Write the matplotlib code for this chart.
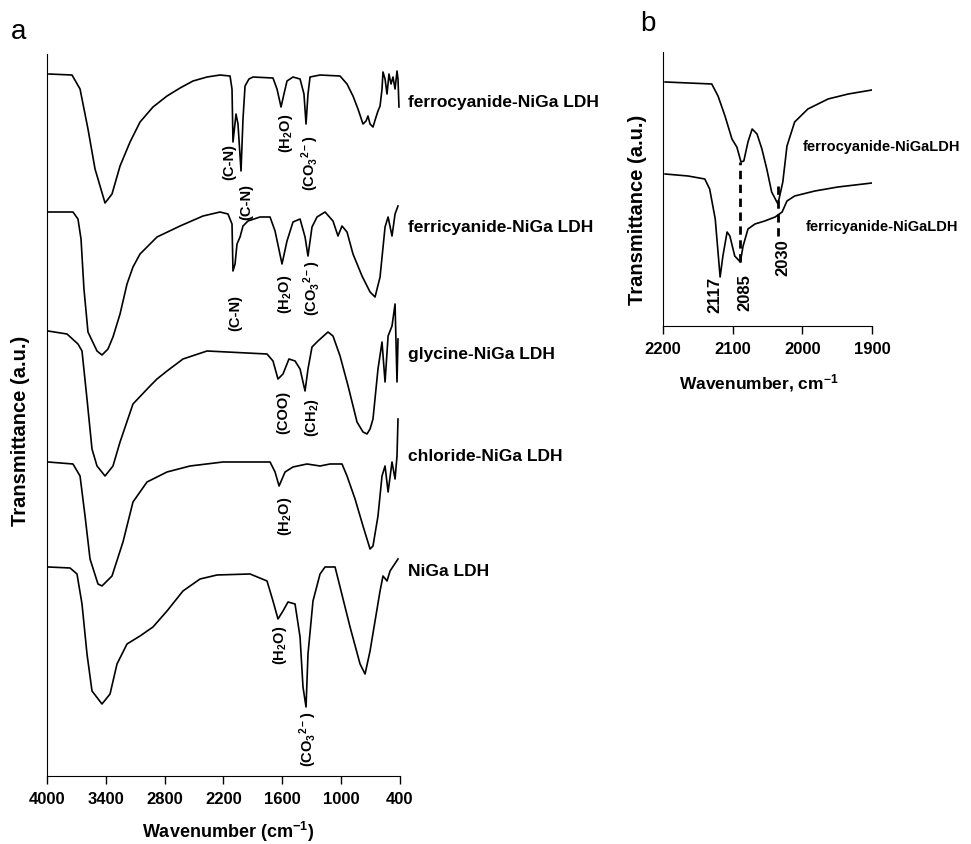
import matplotlib
matplotlib.use("Agg")
import matplotlib.pyplot as plt

plt.rcParams['font.family'] = ['Liberation Sans', 'DejaVu Sans']
plt.rcParams['mathtext.default'] = 'regular'

# ---- panel a: FTIR spectra, stacked (a.u.) ----
wn_ferro = [3980, 3745, 3663, 3582, 3510, 3408, 3337, 3255, 3153, 3051, 2919, 2776, 2643, 2511, 2368,
            2235, 2133, 2113, 2103, 2072, 2052, 2021, 2001, 1980, 1940, 1899, 1695, 1654, 1613, 1583,
            1552, 1491, 1419, 1379, 1358, 1338, 1317, 1215, 1011, 940, 879, 828, 777, 746, 726,
            705, 675, 644, 624, 603, 583, 573, 552, 532, 512, 491, 471, 450, 430, 420, 410]
t_ferro = [702, 701, 687, 647, 607, 573, 582, 610, 634, 654, 669, 680, 688, 695, 699,
           701, 700, 687, 634, 662, 652, 605, 657, 690, 697, 699, 698, 687, 669, 682,
           695, 699, 697, 682, 652, 682, 699, 701, 700, 692, 680, 667, 652, 655, 660,
           652, 649, 659, 665, 670, 687, 704, 697, 682, 702, 692, 699, 687, 705, 697, 669]

wn_ferri = [3990, 3735, 3684, 3653, 3623, 3582, 3490, 3439, 3378, 3327, 3255, 3184, 3123, 3051, 2878,
            2643, 2409, 2235, 2154, 2113, 2103, 2082, 2062, 2031, 2001, 1950, 1827, 1725, 1674, 1603,
            1552, 1491, 1419, 1368, 1338, 1297, 1246, 1164, 1083, 1032, 991, 940, 879, 787, 705,
            654, 603, 552, 521, 481, 450, 420]
t_ferri = [564, 564, 557, 537, 487, 444, 425, 421, 427, 439, 462, 492, 509, 522, 539,
           550, 560, 564, 562, 552, 505, 512, 532, 539, 550, 555, 559, 559, 545, 512,
           535, 554, 557, 539, 520, 549, 559, 564, 555, 540, 550, 544, 522, 500, 484,
           479, 499, 549, 559, 540, 562, 570]

wn_gly = [3990, 3796, 3684, 3643, 3592, 3541, 3490, 3408, 3327, 3255, 3123, 2949, 2878, 2776, 2613,
          2368, 2164, 1960, 1756, 1695, 1644, 1593, 1532, 1470, 1419, 1368, 1338, 1297, 1236, 1134,
          1083, 1011, 929, 838, 777, 736, 705, 675, 624, 583, 552, 521, 481, 450, 430, 420]
t_gly = [445, 442, 432, 425, 377, 327, 310, 300, 310, 334, 372, 390, 397, 405, 417,
         425, 424, 423, 422, 415, 397, 402, 417, 415, 407, 385, 407, 429, 435, 444,
         440, 420, 390, 354, 344, 342, 347, 357, 407, 434, 394, 440, 450, 472, 394, 437]

wn_cl = [3990, 3735, 3663, 3612, 3561, 3480, 3439, 3337, 3225, 3123, 2980, 2776, 2541, 2205, 1725,
         1674, 1633, 1572, 1491, 1348, 1215, 1113, 991, 940, 858, 777, 705, 675, 624, 583,
         552, 521, 481, 450, 430, 420]
t_cl = [314, 312, 300, 260, 217, 192, 190, 200, 234, 274, 294, 304, 310, 314, 314,
        304, 290, 304, 309, 312, 310, 312, 312, 300, 277, 250, 227, 230, 260, 300,
        310, 284, 314, 297, 320, 357]

wn_niga = [3990, 3765, 3694, 3643, 3592, 3541, 3439, 3357, 3286, 3184, 3051, 2919, 2776, 2613, 2439,
           2266, 1929, 1756, 1695, 1644, 1593, 1542, 1470, 1419, 1389, 1358, 1338, 1287, 1215, 1164,
           1062, 1011, 909, 807, 756, 705, 654, 603, 573, 532, 501, 420]
t_niga = [209, 208, 202, 172, 122, 85, 72, 82, 112, 132, 140, 149, 165, 185, 197,
          201, 202, 195, 175, 157, 165, 174, 172, 139, 89, 69, 122, 175, 202, 209,
          209, 189, 149, 112, 102, 125, 155, 185, 200, 195, 205, 217]

series_a = [
    (wn_ferro, t_ferro, "ferrocyanide-NiGa LDH", 675),
    (wn_ferri, t_ferri, "ferricyanide-NiGa LDH", 550),
    (wn_gly, t_gly, "glycine-NiGa LDH", 422),
    (wn_cl, t_cl, "chloride-NiGa LDH", 320),
    (wn_niga, t_niga, "NiGa LDH", 205),
]

# band assignments: (wavenumber, a.u. height, text)
bands_a = [
    (2143, 615, "(C-N)"), (1970, 575, "(C-N)"), (1562, 644, "(H$_2$O)"), (1317, 614, "(CO$_3$$^{2-}$)"),
    (2082, 464, "(C-N)"), (1572, 483, "(H$_2$O)"), (1297, 489, "(CO$_3$$^{2-}$)"),
    (1593, 365, "(COO)"), (1297, 359, "(CH$_2$)"),
    (1572, 261, "(H$_2$O)"),
    (1623, 132, "(H$_2$O)"), (1338, 38, "(CO$_3$$^{2-}$)"),
]
ticks_a = [4000, 3400, 2800, 2200, 1600, 1000, 400]

# ---- panel b: C-N stretching region ----
wn_b_ferro = [2197, 2130, 2121, 2111, 2101, 2094, 2088, 2084, 2078, 2072, 2065, 2058, 2051, 2044, 2035,
              2028, 2022, 2011, 1992, 1963, 1934, 1900]
t_b_ferro = [244, 242, 230, 210, 187, 179, 164, 165, 184, 197, 192, 177, 157, 134, 122,
             144, 180, 204, 217, 227, 232, 236]
wn_b_ferri = [2197, 2164, 2140, 2133, 2125, 2118, 2114, 2108, 2104, 2097, 2089, 2085, 2078, 2068, 2054,
              2039, 2029, 2022, 2011, 1982, 1949, 1900]
t_b_ferri = [152, 150, 147, 137, 107, 49, 70, 94, 90, 70, 64, 80, 97, 102, 105,
             109, 114, 125, 130, 135, 139, 143]
peak_lines_b = [(2089, 64, 164), (2035, 90, 142)]
peak_labels_b = [(2125, 32, "2117"), (2082, 34, "2085"), (2028, 69, "2030")]
ticks_b = [2200, 2100, 2000, 1900]

fig = plt.figure(figsize=(9.71, 8.45), dpi=100)
ax = fig.add_axes([0.0484, 0.0805, 0.3635, 0.8544])
for wn, t, name, ylab in series_a:
    ax.plot(wn, t, color='black', lw=1.2)
    ax.text(4000 - (408 - 47) * 10.2, ylab, name, fontsize=12.5, fontweight='bold',
            va='center', ha='left', clip_on=False)
for wn, t, txt in bands_a:
    ax.text(wn, t, txt, rotation=90, fontsize=10.5, fontweight='bold', ha='center', va='center')
ax.set_xlim(4000, 400)
ax.set_ylim(0, 722)
ax.set_xticks(ticks_a)
ax.set_yticks([])
ax.tick_params(axis='x', direction='out', length=6, width=1, labelsize=12, pad=5)
for lbl in ax.get_xticklabels():
    lbl.set_fontweight('bold')
for s in ['top', 'right']:
    ax.spines[s].set_visible(False)
fig.text(0.235, 0.016, "Wavenumber (cm$^{-1}$)", fontsize=13, fontweight='bold', ha='center', va='center')
fig.text(0.021, 0.49, "Transmittance (a.u.)", fontsize=14.5, fontweight='bold', rotation=90,
         ha='center', va='center')
fig.text(0.011, 0.962, "a", fontsize=20, ha='left', va='center')

bx = fig.add_axes([0.6828, 0.613, 0.2152, 0.3243])
bx.plot(wn_b_ferro, t_b_ferro, color='black', lw=1.2)
bx.plot(wn_b_ferri, t_b_ferri, color='black', lw=1.2)
for wn, y0, y1 in peak_lines_b:
    bx.plot([wn, wn], [y0, y1], color='black', lw=2, ls=(0, (3, 2)))
for wn, t, txt in peak_labels_b:
    bx.text(wn, t, txt, rotation=90, fontsize=12, fontweight='bold', ha='center', va='center')
bx.text(2000, 180, "ferrocyanide-NiGaLDH", fontsize=10.5, fontweight='bold', ha='left', va='center',
        clip_on=False)
bx.text(1995, 100, "ferricyanide-NiGaLDH", fontsize=10.5, fontweight='bold', ha='left', va='center',
        clip_on=False)
bx.set_xlim(2200, 1900)
bx.set_ylim(0, 274)
bx.set_xticks(ticks_b)
bx.set_yticks([])
bx.tick_params(axis='x', direction='out', length=6, width=1, labelsize=12, pad=5)
for lbl in bx.get_xticklabels():
    lbl.set_fontweight('bold')
for s in ['top', 'right']:
    bx.spines[s].set_visible(False)
fig.text(0.781, 0.547, "Wavenumber, cm$^{-1}$", fontsize=12.5, fontweight='bold', ha='center', va='center')
fig.text(0.657, 0.752, "Transmittance (a.u.)", fontsize=14.5, fontweight='bold', rotation=90,
         ha='center', va='center')
fig.text(0.659, 0.972, "b", fontsize=20, ha='left', va='center')

fig.savefig("out.png", dpi=100)
